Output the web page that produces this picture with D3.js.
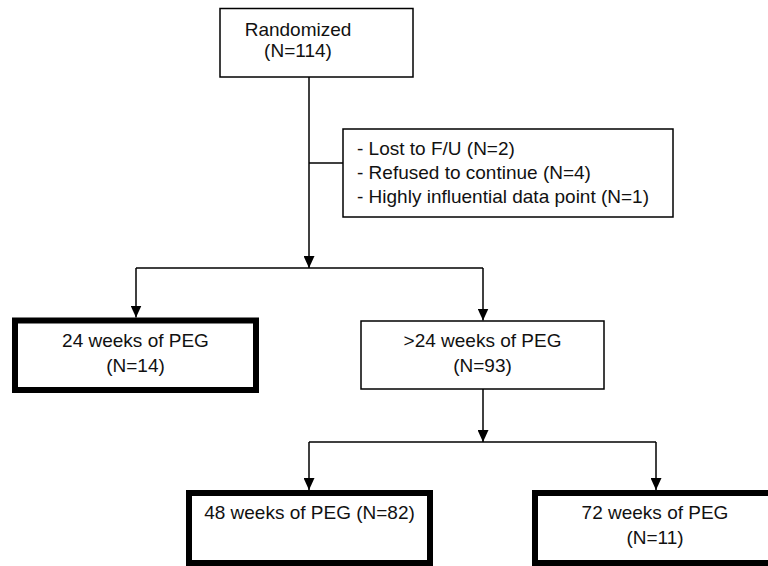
<!DOCTYPE html>
<html>
<head>
<meta charset="utf-8">
<script src="https://cdn.jsdelivr.net/npm/d3@7"></script>
<style>
  html, body { margin: 0; padding: 0; background: #fff; }
  svg text { font-family: "Liberation Sans", Arial, sans-serif; font-size: 19px; fill: #111; }
</style>
</head>
<body>
<svg id="chart" width="768" height="566"></svg>
<script>
"use strict";

// flowchart content
const stages = ["Randomized", "24 weeks of PEG", ">24 weeks of PEG", "48 weeks of PEG", "72 weeks of PEG"];
const counts = [114, 14, 93, 82, 11];
const exclusionReasons = ["Lost to F/U", "Refused to continue", "Highly influential data point"];
const exclusionCounts = [2, 4, 1];

// layout (pixel boxes, text anchor and baselines) kept apart from the data
const layout = [
    {x0: 220, y0: 8.5, x1: 413, y1: 77, bold: false, tx: 298, lines: [36, 57]},
    {x0: 15, y0: 320.5, x1: 256, y1: 390, bold: true, tx: 135.5, lines: [347, 372]},
    {x0: 361, y0: 321, x1: 604, y1: 389, bold: false, tx: 482.5, lines: [347, 372]},
    {x0: 189, y0: 493, x1: 430, y1: 563, bold: true, tx: 309.5, lines: [519]},
    {x0: 535, y0: 493, x1: 790, y1: 563, bold: true, tx: 655, lines: [519, 544]}
];
const exclBox = {x0: 343, y0: 129, x1: 673, y1: 217};

const svg = d3.select("#chart");

svg.append("defs").append("marker")
    .attr("id", "arrow")
    .attr("viewBox", "0 0 12 11")
    .attr("refX", 12).attr("refY", 5.5)
    .attr("markerWidth", 12).attr("markerHeight", 11)
    .attr("markerUnits", "userSpaceOnUse")
    .attr("orient", "auto")
    .append("path")
    .attr("d", "M0,0L12,5.5L0,11Z")
    .attr("fill", "#000");

const nodes = stages.map((s, i) => Object.assign({label: s, n: counts[i]}, layout[i]));

// connectors
const line = d3.line();
const link = (pts, arrow) => {
    const p = svg.append("path")
        .attr("d", line(pts))
        .attr("fill", "none")
        .attr("stroke", "#000")
        .attr("stroke-width", 1.5);
    if (arrow) p.attr("marker-end", "url(#arrow)");
};

const trunk = 309, split1 = 268, split2 = 442;
link([[trunk, nodes[0].y1], [trunk, split1]], true);
link([[trunk, 163], [exclBox.x0, 163]], false);
link([[136, split1], [483, split1]], false);
link([[136, split1], [136, nodes[1].y0 - 3]], true);
link([[483, split1], [483, nodes[2].y0 - 0.5]], true);
link([[483, nodes[2].y1], [483, split2]], true);
link([[309, split2], [656, split2]], false);
link([[309, split2], [309, nodes[3].y0 - 3]], true);
link([[656, split2], [656, nodes[4].y0 - 3]], true);

// boxes
const g = svg.selectAll("g.node").data(nodes).join("g").attr("class", "node");
g.append("rect")
    .attr("x", d => d.x0).attr("y", d => d.y0)
    .attr("width", d => d.x1 - d.x0).attr("height", d => d.y1 - d.y0)
    .attr("fill", "#fff").attr("stroke", "#000")
    .attr("stroke-width", d => d.bold ? 6 : 1.5);

g.selectAll("text")
    .data(d => d.lines.length === 1
        ? [{x: d.tx, y: d.lines[0], t: `${d.label} (N=${d.n})`}]
        : [{x: d.tx, y: d.lines[0], t: d.label}, {x: d.tx, y: d.lines[1], t: `(N=${d.n})`}])
    .join("text")
    .attr("x", d => d.x).attr("y", d => d.y)
    .attr("text-anchor", "middle")
    .text(d => d.t);

// exclusion box
svg.append("rect")
    .attr("x", exclBox.x0).attr("y", exclBox.y0)
    .attr("width", exclBox.x1 - exclBox.x0).attr("height", exclBox.y1 - exclBox.y0)
    .attr("fill", "#fff").attr("stroke", "#000").attr("stroke-width", 1.5);

svg.selectAll("text.excl").data(exclusionReasons).join("text")
    .attr("class", "excl")
    .attr("x", 357)
    .attr("y", (d, i) => 155 + i * 24)
    .text((d, i) => `- ${d} (N=${exclusionCounts[i]})`);
</script>
</body>
</html>
